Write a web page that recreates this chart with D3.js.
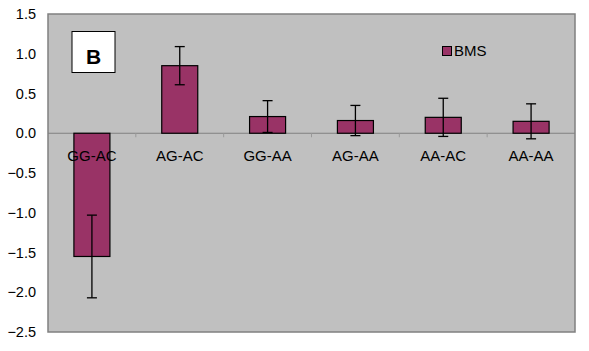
<!DOCTYPE html>
<html><head><meta charset="utf-8">
<script src="https://cdn.jsdelivr.net/npm/d3@7"></script>
<style>body{margin:0;background:#fff}svg{display:block}</style>
</head><body>
<svg id="c" width="589" height="351"></svg>
<script>
const categories = ["GG-AC","AG-AC","GG-AA","AG-AA","AA-AC","AA-AA"];
const values = [-1.55, 0.85, 0.21, 0.16, 0.20, 0.15];
const errors = [0.52, 0.24, 0.20, 0.19, 0.24, 0.22];
const yTicks = [1.5, 1.0, 0.5, 0.0, -0.5, -1.0, -1.5, -2.0, -2.5];
const seriesName = "BMS";
const panelLabel = "B";

const svg = d3.select("#c");
const L = 48, R = 575, T = 14, B = 332;
const x = d3.scaleBand().domain(categories).range([L, R]).paddingInner(0.59).paddingOuter(0.295);
const xb = d3.scaleBand().domain(categories).range([L, R]);
const y = d3.scaleLinear().domain([-2.5, 1.5]).range([B, T]);
const font = "Arial, 'Liberation Sans', sans-serif";

svg.append("rect").attr("x", L).attr("y", T).attr("width", R - L).attr("height", B - T)
  .attr("fill", "#c0c0c0").attr("stroke", "#808080").attr("stroke-width", 1.5);

// y axis labels
const ya = svg.append("g").attr("transform", `translate(${L},0)`)
  .call(d3.axisLeft(y).tickValues(yTicks).tickFormat(d3.format(".1f")).tickSize(0).tickPadding(12));
ya.select(".domain").remove();
ya.selectAll("text").attr("font-family", font).attr("font-size", 14.5).attr("fill", "#000");

// zero line with ticks
svg.append("line").attr("x1", L).attr("x2", R).attr("y1", y(0)).attr("y2", y(0))
  .attr("stroke", "#808080").attr("stroke-width", 1);
svg.selectAll(".ct").data(categories.slice(1)).join("line")
  .attr("x1", d => xb(d)).attr("x2", d => xb(d)).attr("y1", y(0)).attr("y2", y(0) + 4)
  .attr("stroke", "#999").attr("stroke-width", 1);

// bars
svg.selectAll(".bar").data(categories).join("rect")
  .attr("x", d => x(d)).attr("width", x.bandwidth())
  .attr("y", (d, i) => y(Math.max(0, values[i])))
  .attr("height", (d, i) => Math.abs(y(values[i]) - y(0)))
  .attr("fill", "#993366").attr("stroke", "#000").attr("stroke-width", 1.2);

// category labels
svg.selectAll(".cl").data(categories).join("text")
  .attr("x", d => xb(d) + xb.bandwidth() / 2).attr("y", y(0) + 28)
  .attr("text-anchor", "middle").attr("font-family", font).attr("font-size", 15)
  .attr("fill", "#000").text(d => d);

// error bars
const eg = svg.selectAll(".err").data(categories).join("g");
eg.append("line")
  .attr("x1", d => x(d) + x.bandwidth() / 2).attr("x2", d => x(d) + x.bandwidth() / 2)
  .attr("y1", (d, i) => y(values[i] + errors[i])).attr("y2", (d, i) => y(values[i] - errors[i]))
  .attr("stroke", "#000").attr("stroke-width", 1.3);
[1, -1].forEach(s => {
  eg.append("line")
    .attr("x1", d => x(d) + x.bandwidth() / 2 - 5).attr("x2", d => x(d) + x.bandwidth() / 2 + 5)
    .attr("y1", (d, i) => y(values[i] + s * errors[i])).attr("y2", (d, i) => y(values[i] + s * errors[i]))
    .attr("stroke", "#000").attr("stroke-width", 1.3);
});

// panel label box
svg.append("rect").attr("x", 72).attr("y", 31.5).attr("width", 43).attr("height", 41)
  .attr("fill", "#fff").attr("stroke", "#000").attr("stroke-width", 1);
svg.append("text").attr("x", 93.5).attr("y", 64).attr("text-anchor", "middle")
  .attr("font-family", font).attr("font-weight", "bold").attr("font-size", 21).text(panelLabel);

// legend
svg.append("rect").attr("x", 442.5).attr("y", 46.5).attr("width", 9).attr("height", 9)
  .attr("fill", "#993366").attr("stroke", "#000").attr("stroke-width", 1);
svg.append("text").attr("x", 454).attr("y", 56).attr("font-family", font).attr("font-size", 15)
  .attr("fill", "#000").text(seriesName);
</script>
</body></html>
